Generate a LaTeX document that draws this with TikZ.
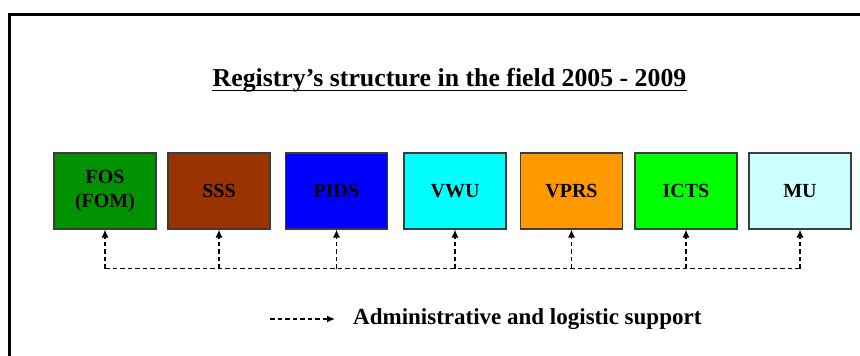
\documentclass[tikz,border=0pt]{standalone}
\usepackage{fontspec}
\setmainfont{Liberation Serif}
\usetikzlibrary{arrows.meta}
\definecolor{cFOS}{RGB}{0,146,0}
\definecolor{cSSS}{RGB}{153,51,0}
\definecolor{cPIDS}{RGB}{0,0,255}
\definecolor{cVWU}{RGB}{0,255,255}
\definecolor{cVPRS}{RGB}{255,153,0}
\definecolor{cICTS}{RGB}{0,255,0}
\definecolor{cMU}{RGB}{204,255,255}
\definecolor{bordergray}{RGB}{60,60,60}
\tikzset{
  unitbox/.style={draw=bordergray, line width=1.2pt, minimum width=102pt, minimum height=76pt,
    inner sep=0pt, align=center, font=\fontsize{20}{22}\selectfont\bfseries},
  support/.style={dash pattern=on 4.5pt off 3pt, line width=1.2pt, -{Latex[length=8pt,width=7pt]}},
  supportline/.style={dash pattern=on 4.5pt off 3pt, line width=1.2pt}
}
\begin{document}
\begin{tikzpicture}[x=1pt,y=-1pt]
\useasboundingbox (0,0) rectangle (860,356);
\fill[white] (0,0) rectangle (860,356);
% frame
\draw[line width=3pt] (9.5,356) -- (9.5,14) -- (860,14);
% title
\node[anchor=base, inner sep=0pt, font=\fontsize{25.8}{28}\selectfont\bfseries] (title) at (449.5,86) {Registry’s structure in the field 2005 - 2009};
\draw[line width=1.6pt] ([yshift=-4.5pt]title.base west) -- ([yshift=-4.5pt]title.base east);
% boxes
\node[unitbox, fill=cFOS]  (fos)  at (105,191)   {FOS\\[2pt](FOM)};
\node[unitbox, fill=cSSS]  (sss)  at (219,191)   {SSS};
\node[unitbox, fill=cPIDS] (pids) at (336.5,191) {PIDS};
\node[unitbox, fill=cVWU]  (vwu)  at (455,191)   {VWU};
\node[unitbox, fill=cVPRS] (vprs) at (571.5,191) {VPRS};
\node[unitbox, fill=cICTS] (icts) at (686,191)   {ICTS};
\node[unitbox, fill=cMU]   (mu)   at (800,191)   {MU};
% bus
\foreach \n in {fos,sss,pids,vwu,vprs,icts,mu} {
  \coordinate (b\n) at ([yshift=-39pt]\n.south);
}
\draw[supportline] (bfos) -- (bmu);
\foreach \n in {fos,sss,pids,vwu,vprs,icts,mu} {
  \draw[support] (b\n) -- (\n.south);
}
% legend
\coordinate (legA) at (270,319);
\node[anchor=base west, inner sep=0pt, font=\fontsize{23}{26}\selectfont\bfseries] (legtext) at (353,324.5) {Administrative and logistic support};
\coordinate (legB) at (335,319);
\draw[support] (legA) -- (legB);
\end{tikzpicture}
\end{document}
